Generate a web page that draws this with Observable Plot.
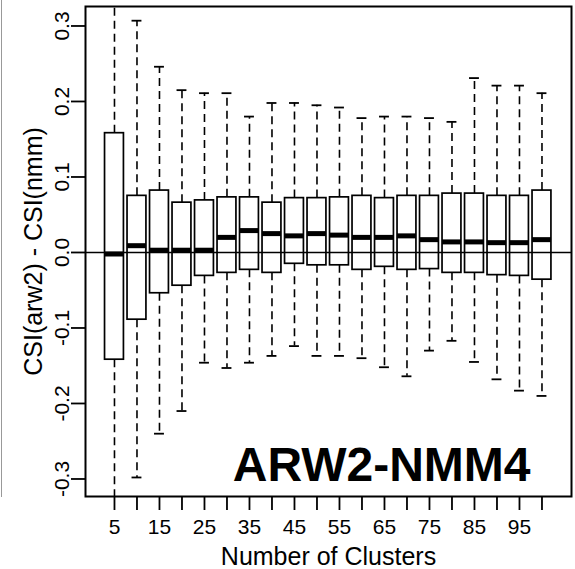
<!DOCTYPE html>
<html>
<head>
<meta charset="utf-8">
<script src="https://cdn.jsdelivr.net/npm/d3@7"></script>
<script src="https://cdn.jsdelivr.net/npm/@observablehq/plot@0.6"></script>
<style>
  html, body { margin: 0; padding: 0; background: #fff; }
  #wrap { position: relative; width: 575px; height: 569px; }
  #edge { position: absolute; left: 1px; top: 0; height: 497px; border-left: 1.5px solid #999; }
</style>
</head>
<body>
<div id="wrap"><div id="edge"></div></div>
<script>
const clusters = [5,10,15,20,25,30,35,40,45,50,55,60,65,70,75,80,85,90,95,100];
const lowerWhisker = [-0.34,-0.298,-0.240,-0.210,-0.146,-0.153,-0.146,-0.137,-0.124,-0.137,-0.137,-0.140,-0.152,-0.164,-0.130,-0.117,-0.145,-0.168,-0.183,-0.190];
const q1 = [-0.142,-0.089,-0.054,-0.044,-0.031,-0.027,-0.023,-0.027,-0.015,-0.017,-0.017,-0.023,-0.019,-0.023,-0.022,-0.027,-0.027,-0.030,-0.031,-0.036];
const median = [-0.002,0.009,0.003,0.003,0.003,0.020,0.029,0.025,0.022,0.025,0.023,0.020,0.020,0.022,0.017,0.014,0.014,0.013,0.013,0.017];
const q3 = [0.158,0.075,0.082,0.066,0.069,0.073,0.073,0.066,0.072,0.072,0.073,0.075,0.072,0.075,0.075,0.078,0.078,0.075,0.075,0.082];
const upperWhisker = [0.34,0.307,0.246,0.215,0.211,0.211,0.180,0.198,0.198,0.195,0.192,0.178,0.180,0.180,0.178,0.173,0.231,0.221,0.221,0.211];
const xTickLabels = [5,15,25,35,45,55,65,75,85,95];
const yTicks = [-0.3,-0.2,-0.1,0.0,0.1,0.2,0.3];
const xTitle = "Number of Clusters";
const yTitle = "CSI(arw2) - CSI(nmm)";
const panelLabel = "ARW2-NMM4";

const data = clusters.map((k, i) => ({k, lo: lowerWhisker[i], q1: q1[i], med: median[i], q3: q3[i], hi: upperWhisker[i]}));
const hw = 2.1, cap = 1.1;
const font = "'Liberation Sans', Arial, Helvetica, sans-serif";

const chart = Plot.plot({
  width: 575, height: 569,
  marginLeft: 85, marginRight: 4, marginTop: 6, marginBottom: 73,
  style: {fontFamily: font, background: "transparent", color: "#000"},
  x: {domain: [-1.44, 106.56]},
  y: {domain: [-0.3232, 0.3258]},
  marks: [
    Plot.axisX({ticks: clusters, tickSize: 14, tickPadding: 9, strokeWidth: 1.8, fontSize: 21,
      tickFormat: d => xTickLabels.includes(d) ? String(d) : "", label: null}),
    Plot.axisY({ticks: yTicks, tickSize: 14, strokeWidth: 1.8, tickFormat: () => "", label: null}),
    Plot.text(yTicks, {y: d => d, text: d => d.toFixed(1), frameAnchor: "left", dx: -23,
      rotate: -90, textAnchor: "middle", lineAnchor: "middle", fontSize: 21}),
    Plot.text([xTitle], {text: d => d, frameAnchor: "bottom", dy: 68, lineAnchor: "bottom", fontSize: 25}),
    Plot.text([yTitle], {text: d => d, frameAnchor: "left", dx: -52, rotate: -90,
      textAnchor: "middle", lineAnchor: "middle", fontSize: 25}),
    // whiskers
    Plot.ruleX(data, {x: "k", y1: "q3", y2: "hi", stroke: "#000", strokeWidth: 1.6, strokeDasharray: "8,5", clip: true}),
    Plot.ruleX(data, {x: "k", y1: "q1", y2: "lo", stroke: "#000", strokeWidth: 1.6, strokeDasharray: "8,5", clip: true}),
    Plot.ruleY(data.filter(d => d.hi < 0.3258), {y: "hi", x1: d => d.k - cap, x2: d => d.k + cap, stroke: "#000", strokeWidth: 1.8}),
    Plot.ruleY(data.filter(d => d.lo > -0.3232), {y: "lo", x1: d => d.k - cap, x2: d => d.k + cap, stroke: "#000", strokeWidth: 1.8}),
    // boxes
    Plot.rect(data, {x1: d => d.k - hw, x2: d => d.k + hw, y1: "q1", y2: "q3", fill: "#fff", stroke: "#000", strokeWidth: 1.7}),
    Plot.ruleY(data, {y: "med", x1: d => d.k - hw, x2: d => d.k + hw, stroke: "#000", strokeWidth: 5}),
    Plot.ruleY([0], {stroke: "#000", strokeWidth: 1.4}),
    Plot.text([panelLabel], {text: d => d, frameAnchor: "bottom-right", dx: -41, dy: -16,
      textAnchor: "end", lineAnchor: "bottom", fontSize: 48, fontWeight: "bold"}),
    Plot.frame({stroke: "#000", strokeWidth: 2})
  ]
});
document.getElementById("wrap").appendChild(chart);
</script>
</body>
</html>
